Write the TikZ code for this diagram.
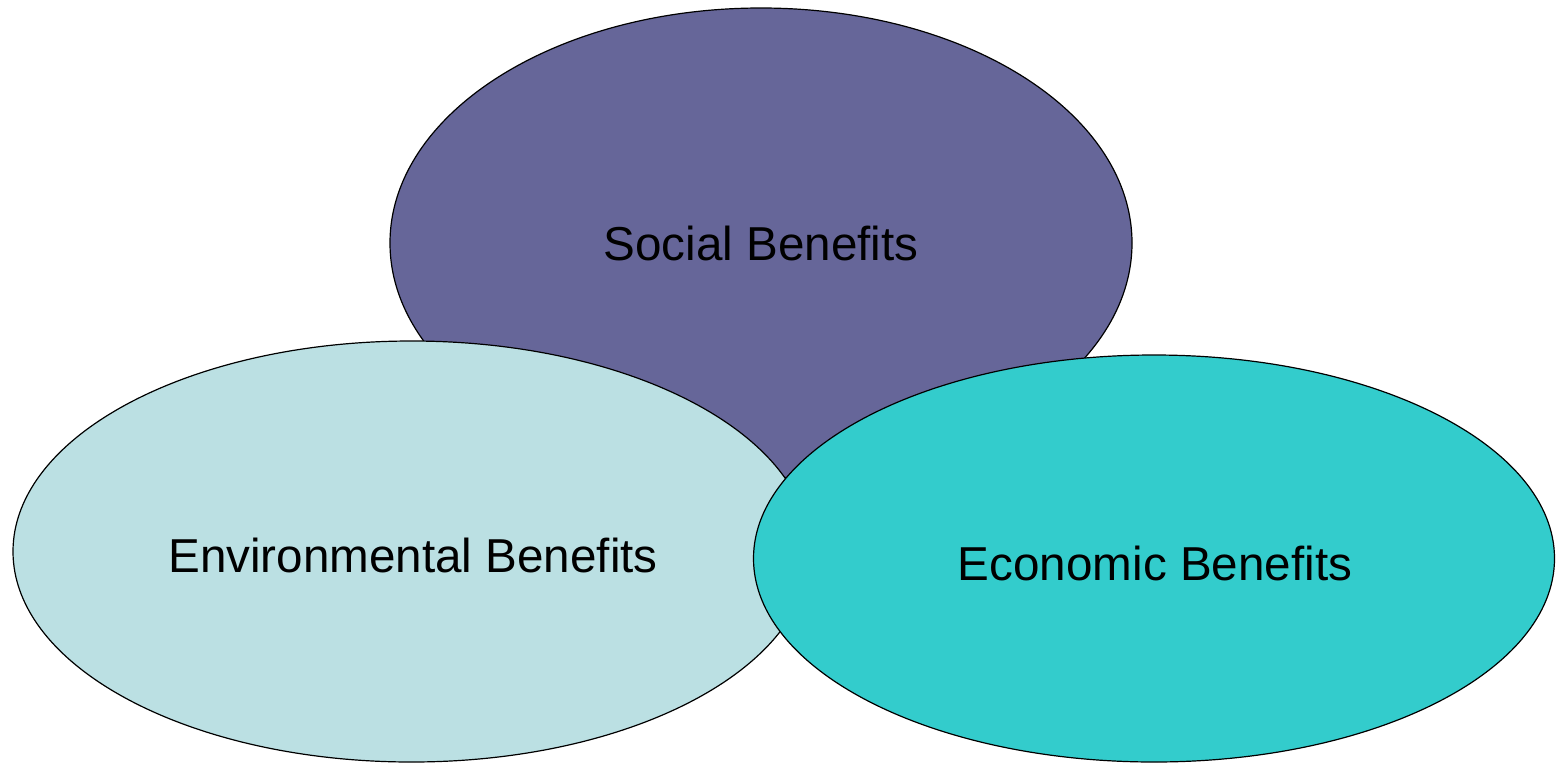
\documentclass[tikz,border=0pt]{standalone}
\usepackage{fontspec}
\setmainfont{Liberation Sans}
\usetikzlibrary{shapes.geometric}
\definecolor{socialc}{HTML}{666699}
\definecolor{envc}{HTML}{BBE0E3}
\definecolor{econc}{HTML}{33CCCC}
\tikzset{
  blob/.style={ellipse, draw=black, line width=1.2pt, inner sep=0pt, text=black},
  lbl/.style={font=\fontsize{47.6}{56}\selectfont, inner sep=0pt, anchor=base, text=black},
}
\begin{document}
\begin{tikzpicture}[x=1pt,y=-1pt]
\useasboundingbox[fill=white] (0,0) rectangle (1561,764);
\node[blob, fill=socialc, minimum width=742pt, minimum height=470pt] (social) at (761,243) {};
\node[blob, fill=envc, minimum width=797pt, minimum height=421pt] (env) at (411.5,551.5) {};
\node[blob, fill=econc, minimum width=801pt, minimum height=407pt] (econ) at (1154,558.5) {};
\node[lbl] (tsocial) at (761,260) {Social Benefits};
\node[lbl] (tenv) at (413,572) {Environmental Benefits};
\node[lbl] (tecon) at (1155,580) {Economic Benefits};
\end{tikzpicture}
\end{document}
